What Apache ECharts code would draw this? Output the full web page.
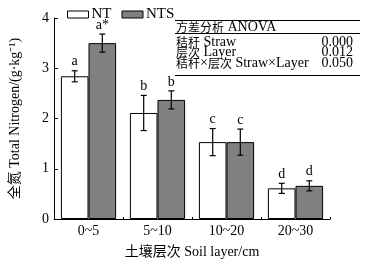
<!DOCTYPE html>
<html><head><meta charset="utf-8">
<script src="https://cdn.jsdelivr.net/npm/echarts@6/dist/echarts.min.js"></script>
<style>html,body{margin:0;padding:0;background:#fff}#c{width:373px;height:264px}</style>
</head><body><div id="c"></div>
<script>
const categories = ['0~5', '5~10', '10~20', '20~30'];
const ntValues = [2.84, 2.11, 1.53, 0.61];
const ntsValues = [3.50, 2.37, 1.53, 0.66];
const ntErrors = [0.11, 0.35, 0.27, 0.10];
const ntsErrors = [0.18, 0.18, 0.26, 0.10];
const ntLetters = ['a', 'b', 'c', 'd'];
const ntsLetters = ['a*', 'b', 'c', 'd'];
const yTicks = [0, 1, 2, 3, 4];
const anovaHeader = ['方差分析', 'ANOVA'];
const anovaRows = [
  {cn: '秸秆', en: 'Straw', p: '0.000'},
  {cn: '层次', en: 'Layer', p: '0.012'},
  {cn: '秸秆×层次', en: 'Straw×Layer', p: '0.050'}
];

const FONT = '"Liberation Serif", "Noto Sans CJK SC", serif';
const CJK = '"Noto Sans CJK SC", sans-serif';
const chart = echarts.init(document.getElementById('c'), null, {renderer: 'canvas'});

function errSeries(values, errs, letters, offsetSign) {
  return {
    type: 'custom',
    z: 10,
    data: values.map((v, i) => [i, v, errs[i]]),
    renderItem: function (params, api) {
      const i = api.value(0), v = api.value(1), e = api.value(2);
      const bw = api.size([1, 0])[0] * 0.4;
      const c = api.coord([i, v]);
      const x = c[0] + offsetSign * bw / 2;
      const top = api.coord([i, v + e])[1];
      const bot = api.coord([i, v - e])[1];
      const cap = 3;
      const st = {stroke: '#000', lineWidth: 1.2};
      return {
        type: 'group',
        children: [
          {type: 'line', shape: {x1: x, y1: top, x2: x, y2: bot}, style: st},
          {type: 'line', shape: {x1: x - cap, y1: top, x2: x + cap, y2: top}, style: st},
          {type: 'line', shape: {x1: x - cap, y1: bot, x2: x + cap, y2: bot}, style: st},
          {type: 'text', style: {text: letters[i], x: x, y: top - 2, textAlign: 'center', textVerticalAlign: 'bottom', font: '14px ' + FONT, fill: '#000'}}
        ]
      };
    },
    silent: true,
    tooltip: {show: false}
  };
}

const rich = {
  c: {fontSize: 12, fontFamily: CJK, color: '#000', verticalAlign: 'middle', lineHeight: 12},
  l: {fontSize: 14, fontFamily: '"Liberation Serif", serif', color: '#000', verticalAlign: 'middle', lineHeight: 12}
};
function richText(cn, en) {
  const cnPart = cn.split('×').map(s => '{c|' + s + '}').join('{l|×}');
  return cnPart + '{l| ' + en + '}';
}
const tableLeft = 175, tableRight = 360;
const graphics = [
  {type: 'line', shape: {x1: tableLeft, y1: 20.5, x2: tableRight, y2: 20.5}, style: {stroke: '#000', lineWidth: 1}},
  {type: 'text', style: {text: richText(anovaHeader[0], anovaHeader[1]), rich: rich, x: 176, y: 27, textVerticalAlign: 'middle'}},
  {type: 'line', shape: {x1: tableLeft, y1: 33.5, x2: tableRight, y2: 33.5}, style: {stroke: '#000', lineWidth: 1}},
  {type: 'line', shape: {x1: tableLeft, y1: 75.5, x2: tableRight, y2: 75.5}, style: {stroke: '#000', lineWidth: 1}}
];
anovaRows.forEach((r, k) => {
  const y = 42 + k * 10.5;
  graphics.push({type: 'text', style: {text: richText(r.cn, r.en), rich: rich, x: 176, y: y, textVerticalAlign: 'middle'}});
  graphics.push({type: 'text', style: {text: r.p, x: 353, y: y, textAlign: 'right', textVerticalAlign: 'middle', font: '14px ' + FONT, fill: '#000'}});
});

chart.setOption({
  animation: false,
  backgroundColor: '#fff',
  textStyle: {fontFamily: FONT},
  grid: {left: 50, right: 43, top: 18, bottom: 41},
  legend: {
    left: 67, top: 7, padding: 0, itemWidth: 21, itemHeight: 7, itemGap: 10,
    icon: 'rect',
    textStyle: {fontSize: 15, fontFamily: FONT, color: '#000', padding: [0, 0, 0, -2]},
    data: [
      {name: 'NT', itemStyle: {color: '#fff', borderColor: '#000', borderWidth: 1}},
      {name: 'NTS', itemStyle: {color: '#808080', borderColor: '#000', borderWidth: 1}}
    ]
  },
  xAxis: {
    type: 'category',
    data: categories,
    name: '土壤层次 Soil layer/cm',
    nameLocation: 'middle',
    nameGap: 26,
    nameTextStyle: {fontSize: 14, fontFamily: FONT, color: '#000'},
    axisLine: {lineStyle: {color: '#000', width: 1}},
    axisTick: {show: true, inside: true, length: 2, lineStyle: {color: '#000'}},
    axisLabel: {fontSize: 14, fontFamily: FONT, color: '#000', margin: 5},
    splitLine: {show: false}
  },
  yAxis: {
    type: 'value',
    min: 0, max: 4, interval: 1,
    name: '全氮 Total Nitrogen/(g·kg⁻¹)',
    nameLocation: 'middle',
    nameGap: 32,
    nameTextStyle: {fontSize: 14, fontFamily: FONT, color: '#000'},
    axisLine: {show: true, lineStyle: {color: '#000', width: 1}},
    axisTick: {show: true, inside: true, length: 4, lineStyle: {color: '#000'}},
    axisLabel: {fontSize: 14, fontFamily: FONT, color: '#000', margin: 5,
      formatter: v => yTicks.includes(v) ? String(v) : ''},
    splitLine: {show: false}
  },
  series: [
    {name: 'NT', type: 'bar', data: ntValues, barGap: '0%', barCategoryGap: '20%',
      itemStyle: {color: '#fff', borderColor: '#000', borderWidth: 1}},
    {name: 'NTS', type: 'bar', data: ntsValues, barGap: '0%', barCategoryGap: '20%',
      itemStyle: {color: '#808080', borderColor: '#000', borderWidth: 1}},
    errSeries(ntValues, ntErrors, ntLetters, -1),
    errSeries(ntsValues, ntsErrors, ntsLetters, 1)
  ],
  graphic: graphics
});
</script>
</body></html>
